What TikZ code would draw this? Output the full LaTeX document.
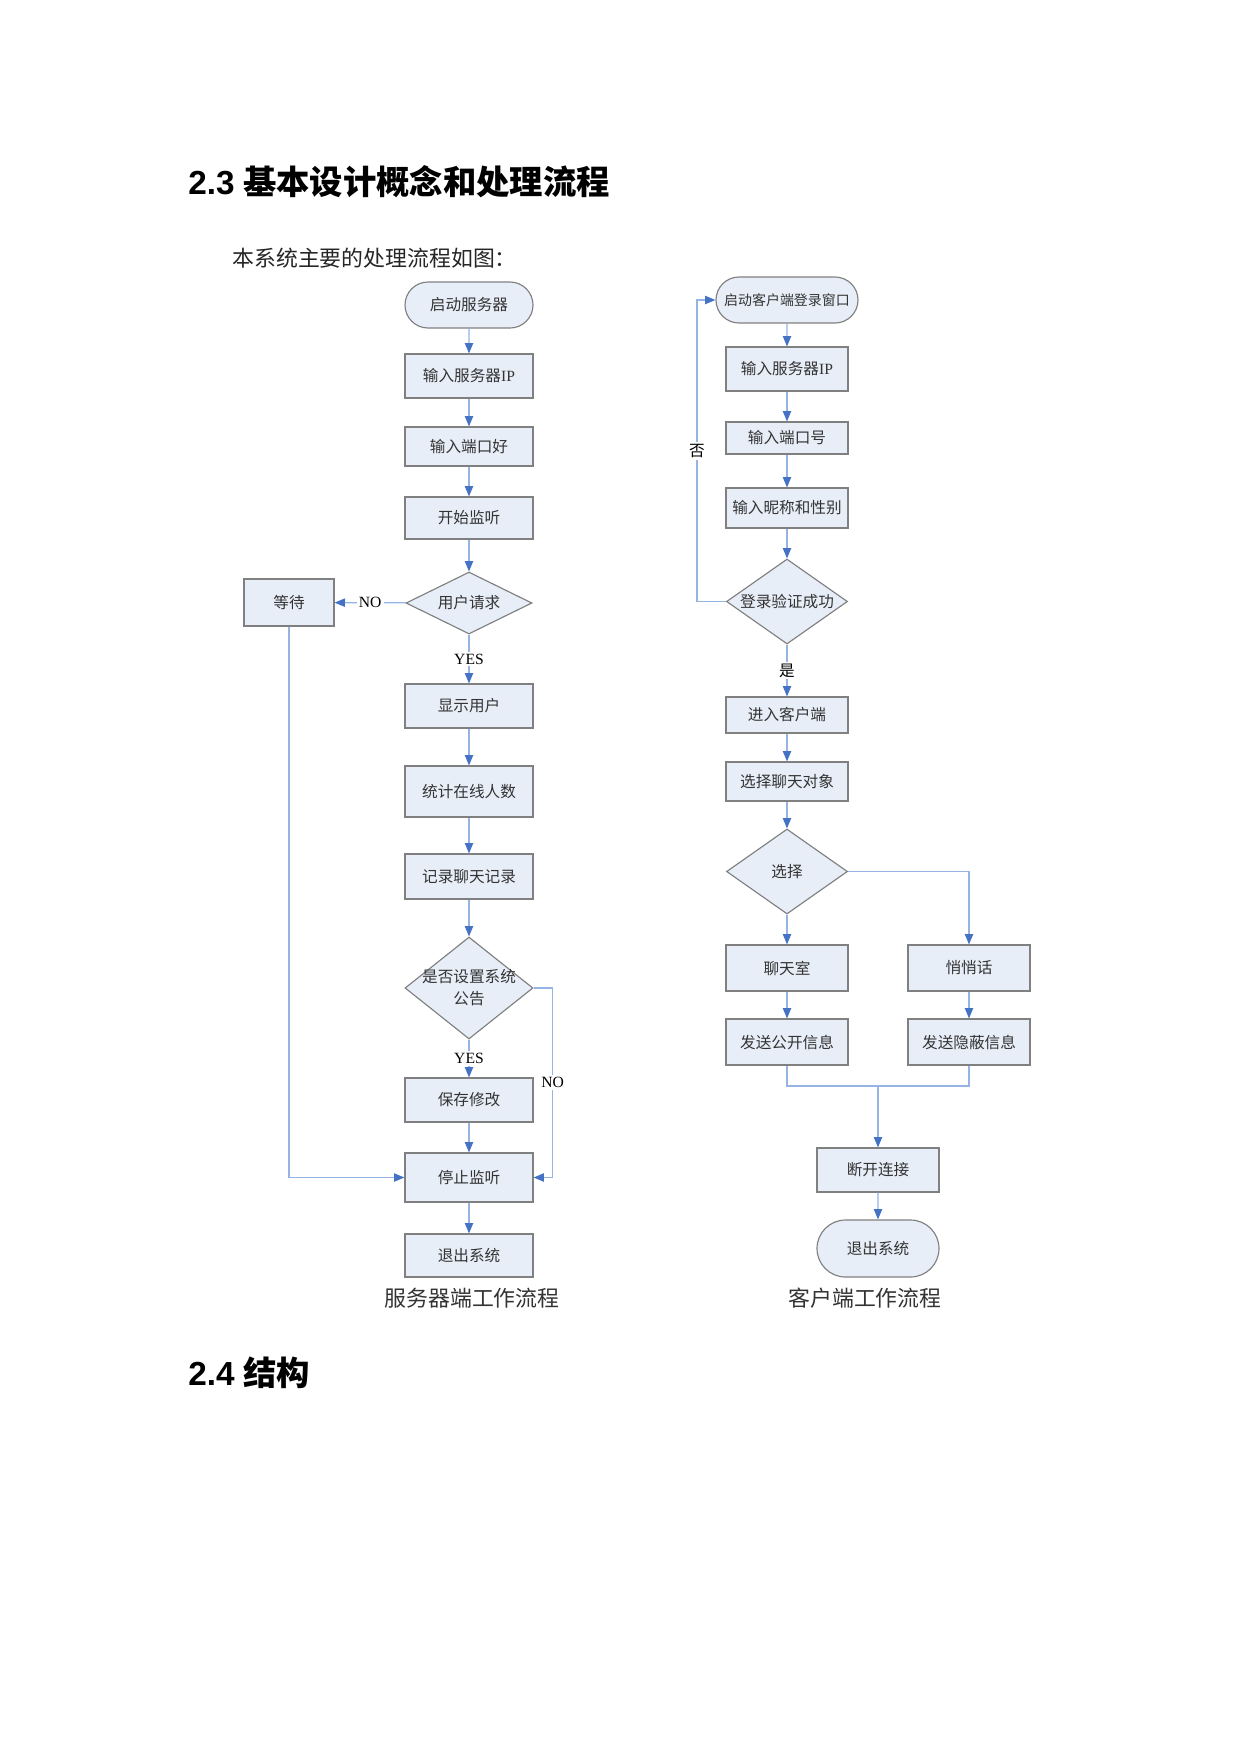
\documentclass[tikz,border=0pt]{standalone}
\usepackage{fontspec}
\setmainfont{Liberation Serif}
\setsansfont{Liberation Sans}
\newfontfamily\cjk{Noto Sans CJK SC}
\usetikzlibrary{arrows.meta,shapes.geometric,shapes.misc}
\definecolor{boxfill}{HTML}{E8EEF8}
\definecolor{boxline}{HTML}{808080}
\definecolor{linkblue}{HTML}{95B3E3}
\definecolor{tipblue}{HTML}{4472C4}
\definecolor{txt}{HTML}{333333}
\begin{document}
\begin{tikzpicture}[x=0.48pt,y=-0.48pt,
  base/.style={draw=boxline, fill=boxfill, line width=0.55pt, inner sep=0pt, text=txt,
    font=\fontsize{7.5}{10.5}\selectfont\cjk, align=center},
  bx/.style 2 args={base, rectangle, minimum width=#1*0.48pt, minimum height=#2*0.48pt},
  rbx/.style 2 args={base, rounded rectangle, minimum width=#1*0.48pt, minimum height=#2*0.48pt},
  dialbl/.style={font=\fontsize{7.5}{10.5}\selectfont\cjk, text=txt, align=center, inner sep=0pt},
  dia/.style n args={3}{base, diamond, minimum width=#1*0.48pt, minimum height=#2*0.48pt,
    label={[dialbl]center:#3}},
  conn/.style={draw=linkblue, line width=0.6pt, -{Triangle[width=4pt,length=5pt,color=tipblue]}},
  plain/.style={draw=linkblue, line width=0.6pt},
  lbl/.style={fill=white, inner sep=1pt, text=black, font=\fontsize{7.5}{9}\selectfont},
  captext/.style={inner sep=0pt, text=txt, font=\fontsize{10.5}{12}\selectfont\cjk},
  head/.style={inner sep=0pt, anchor=west, font=\fontsize{16}{18}\selectfont\bfseries}
]
\useasboundingbox[fill=white] (0,0) rectangle (1241,1754);

% headings
\node[head] (h1) at (188,182) {{\sffamily 2.3} {\cjk 基本设计概念和处理流程}};
\node[captext, anchor=west, text=black!85] (intro) at (232,258) {本系统主要的处理流程如图：};
\node[head] (h2) at (188,1373) {{\sffamily 2.4} {\cjk 结构}};

% server flow
\node[rbx={128}{46}] (s1) at (469,305) {启动服务器};
\node[bx={128}{44}] (s2) at (469,376) {输入服务器{\rmfamily IP}};
\node[bx={128}{39}] (s3) at (469,446.5) {输入端口好};
\node[bx={128}{42}] (s4) at (469,518) {开始监听};
\node[dia={126}{62}{用户请求}] (s5) at (469,603) {};
\node[bx={90}{47}] (wait) at (289,602.5) {等待};
\node[bx={128}{44}] (s6) at (469,706) {显示用户};
\node[bx={128}{51}] (s7) at (469,791.5) {统计在线人数};
\node[bx={128}{45}] (s8) at (469,876.5) {记录聊天记录};
\node[dia={128}{102}{是否设置系统\\公告}] (s9) at (469,988) {};
\node[bx={128}{44}] (s10) at (469,1100) {保存修改};
\node[bx={128}{49}] (s11) at (469,1177.5) {停止监听};
\node[bx={128}{43}] (s12) at (469,1255.5) {退出系统};
\node[captext] (capS) at (472,1298) {服务器端工作流程};

\draw[conn] (s1) -- (s2);
\draw[conn] (s2) -- (s3);
\draw[conn] (s3) -- (s4);
\draw[conn] (s4) -- (s5);
\draw[conn] (s5) -- node[lbl] {NO} (wait);
\draw[conn] (s5) -- node[lbl] {YES} (s6);
\draw[conn] (s6) -- (s7);
\draw[conn] (s7) -- (s8);
\draw[conn] (s8) -- (s9);
\draw[conn] (s9) -- node[lbl] {YES} (s10);
\draw[conn] (s9.east) -- ++(19,0) |- node[lbl, pos=0.25] {NO} (s11.east);
\draw[conn] (wait.south) |- (s11.west);
\draw[conn] (s10) -- (s11);
\draw[conn] (s11) -- (s12);

% client flow
\node[rbx={142}{46}, font=\fontsize{6.7}{9}\selectfont\cjk] (c1) at (787,300) {启动客户端登录窗口};
\node[bx={122}{44}] (c2) at (787,369) {输入服务器{\rmfamily IP}};
\node[bx={122}{32}] (c3) at (787,438) {输入端口号};
\node[bx={122}{40}] (c4) at (787,508) {输入昵称和性别};
\node[dia={121}{85}{登录验证成功}] (c5) at (787,601.5) {};
\node[bx={122}{36}] (c6) at (787,715) {进入客户端};
\node[bx={122}{39}] (c7) at (787,781.5) {选择聊天对象};
\node[dia={121}{85}{选择}] (c8) at (787,871.5) {};
\node[bx={122}{46}] (c9) at (787,968) {聊天室};
\node[bx={122}{46}] (c10) at (969,968) {悄悄话};
\node[bx={122}{46}] (c11) at (787,1042) {发送公开信息};
\node[bx={122}{46}] (c12) at (969,1042) {发送隐蔽信息};
\coordinate (m) at (878,1086);
\node[bx={122}{44}] (c13) at (878,1170) {断开连接};
\node[rbx={122}{57}] (c14) at (878,1248.5) {退出系统};
\node[captext] (capC) at (865,1298) {客户端工作流程};

\draw[conn] (c1) -- (c2);
\draw[conn] (c2) -- (c3);
\draw[conn] (c3) -- (c4);
\draw[conn] (c4) -- (c5);
\draw[conn] (c5.west) -- ++(-29,0) |- node[lbl, pos=0.25, font=\fontsize{7.5}{9}\selectfont\cjk] {否} (c1.west);
\draw[conn] (c5) -- node[lbl, font=\fontsize{7.5}{9}\selectfont\cjk] {是} (c6);
\draw[conn] (c6) -- (c7);
\draw[conn] (c7) -- (c8);
\draw[conn] (c8) -- (c9);
\draw[conn] (c8.east) -| (c10.north);
\draw[conn] (c9) -- (c11);
\draw[conn] (c10) -- (c12);
\draw[plain] (c11.south) |- (m);
\draw[plain] (c12.south) |- (m);
\draw[conn] (m) -- (c13);
\draw[conn] (c13) -- (c14);
\end{tikzpicture}
\end{document}
